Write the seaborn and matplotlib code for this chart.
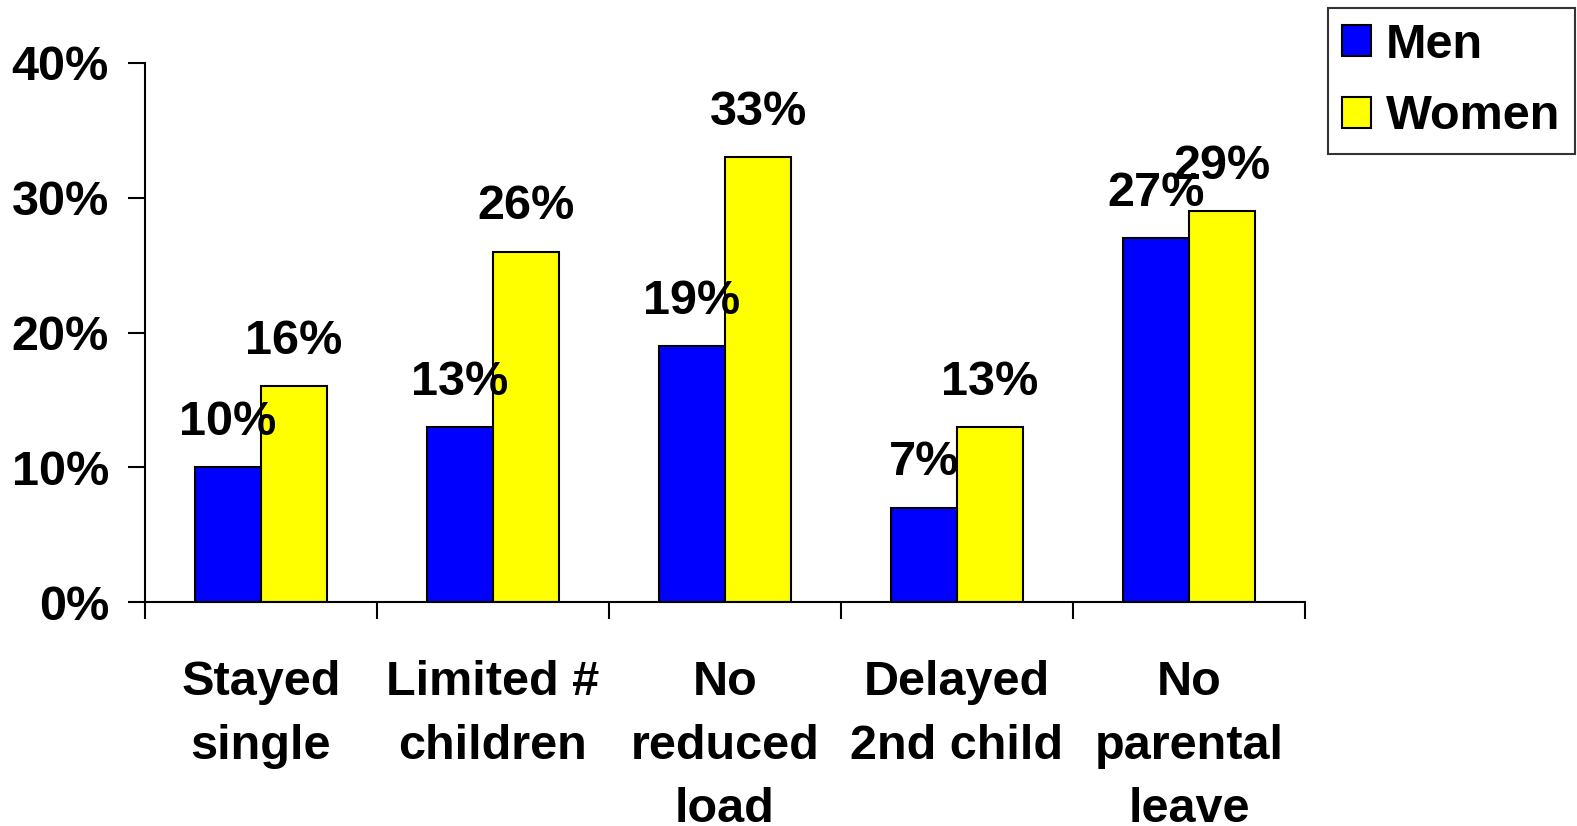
import matplotlib
matplotlib.use("Agg")
import matplotlib.pyplot as plt
import seaborn as sns
import pandas as pd
from matplotlib.ticker import FixedLocator, PercentFormatter
from matplotlib.patches import Patch

categories = ["Stayed\nsingle", "Limited #\nchildren", "No\nreduced\nload", "Delayed\n2nd child", "No\nparental\nleave"]
men = [10, 13, 19, 7, 27]
women = [16, 26, 33, 13, 29]
series = ["Men", "Women"]
colors = {"Men": "#0000FF", "Women": "#FFFF00"}
yticks = [0, 10, 20, 30, 40]

sns.set_theme(style="white")
plt.rcParams["font.family"] = ["Liberation Sans", "DejaVu Sans"]
plt.rcParams["font.weight"] = "bold"
plt.rcParams["text.color"] = "black"
plt.rcParams["xtick.color"] = "black"
plt.rcParams["ytick.color"] = "black"

df = pd.DataFrame({
    "cat": categories * 2,
    "val": men + women,
    "series": ["Men"] * len(categories) + ["Women"] * len(categories),
})

fig = plt.figure(figsize=(15.77, 8.26), dpi=100)
ax = fig.add_axes([145/1577, 1-602/826, (1305-145)/1577, (602-63)/826])
sns.barplot(data=df, x="cat", y="val", hue="series", palette=colors, width=0.57,
            edgecolor="black", linewidth=1.5, ax=ax, legend=False, saturation=1, gap=0)

ax.set_ylim(0, 40)
ax.set_xlim(-0.5, len(categories) - 0.5)
ax.yaxis.set_major_locator(FixedLocator(yticks))
ax.yaxis.set_major_formatter(PercentFormatter(decimals=0))
ax.set_xlabel("")
ax.set_ylabel("")
for s in ["top", "right"]:
    ax.spines[s].set_visible(False)
for s in ["left", "bottom"]:
    ax.spines[s].set_color("black")
    ax.spines[s].set_linewidth(1.5)

ax.tick_params(axis="y", which="major", direction="out", length=12, width=1.5, colors="black",
               pad=14, labelsize=35, left=True)
ax.tick_params(axis="x", which="major", length=0, pad=42, labelsize=35, labelcolor="black")
ax.xaxis.set_minor_locator(FixedLocator([i - 0.5 for i in range(len(categories) + 1)]))
ax.tick_params(axis="x", which="minor", direction="out", length=12, width=1.5, color="black", bottom=True)
for lab in ax.get_xticklabels() + ax.get_yticklabels():
    lab.set_fontweight("bold")
    lab.set_color("black")
for lab in ax.get_xticklabels():
    lab.set_linespacing(1.52)

for cont in ax.containers:
    for bar in cont:
        h = bar.get_height()
        ax.annotate(f"{h:.0f}%", (bar.get_x() + bar.get_width() / 2, h),
                    xytext=(0, 16), textcoords="offset points", ha="center", va="bottom",
                    fontsize=35, fontweight="bold", color="black")

handles = [Patch(facecolor=colors[s], edgecolor="black", linewidth=1.5, label=s) for s in series]
leg = fig.legend(handles=handles, loc="upper right", bbox_to_anchor=(1575/1577, 1-8/826),
                 frameon=True, fancybox=False, prop={"weight": "bold", "size": 35},
                 handlelength=0.6, handleheight=0.6, handletextpad=0.3, borderpad=0.3,
                 labelspacing=0.55, borderaxespad=0)
leg.get_frame().set_edgecolor("black")
leg.get_frame().set_linewidth(1.5)
for t in leg.get_texts():
    t.set_color("black")

fig.savefig("out.png", dpi=100, facecolor="white")
